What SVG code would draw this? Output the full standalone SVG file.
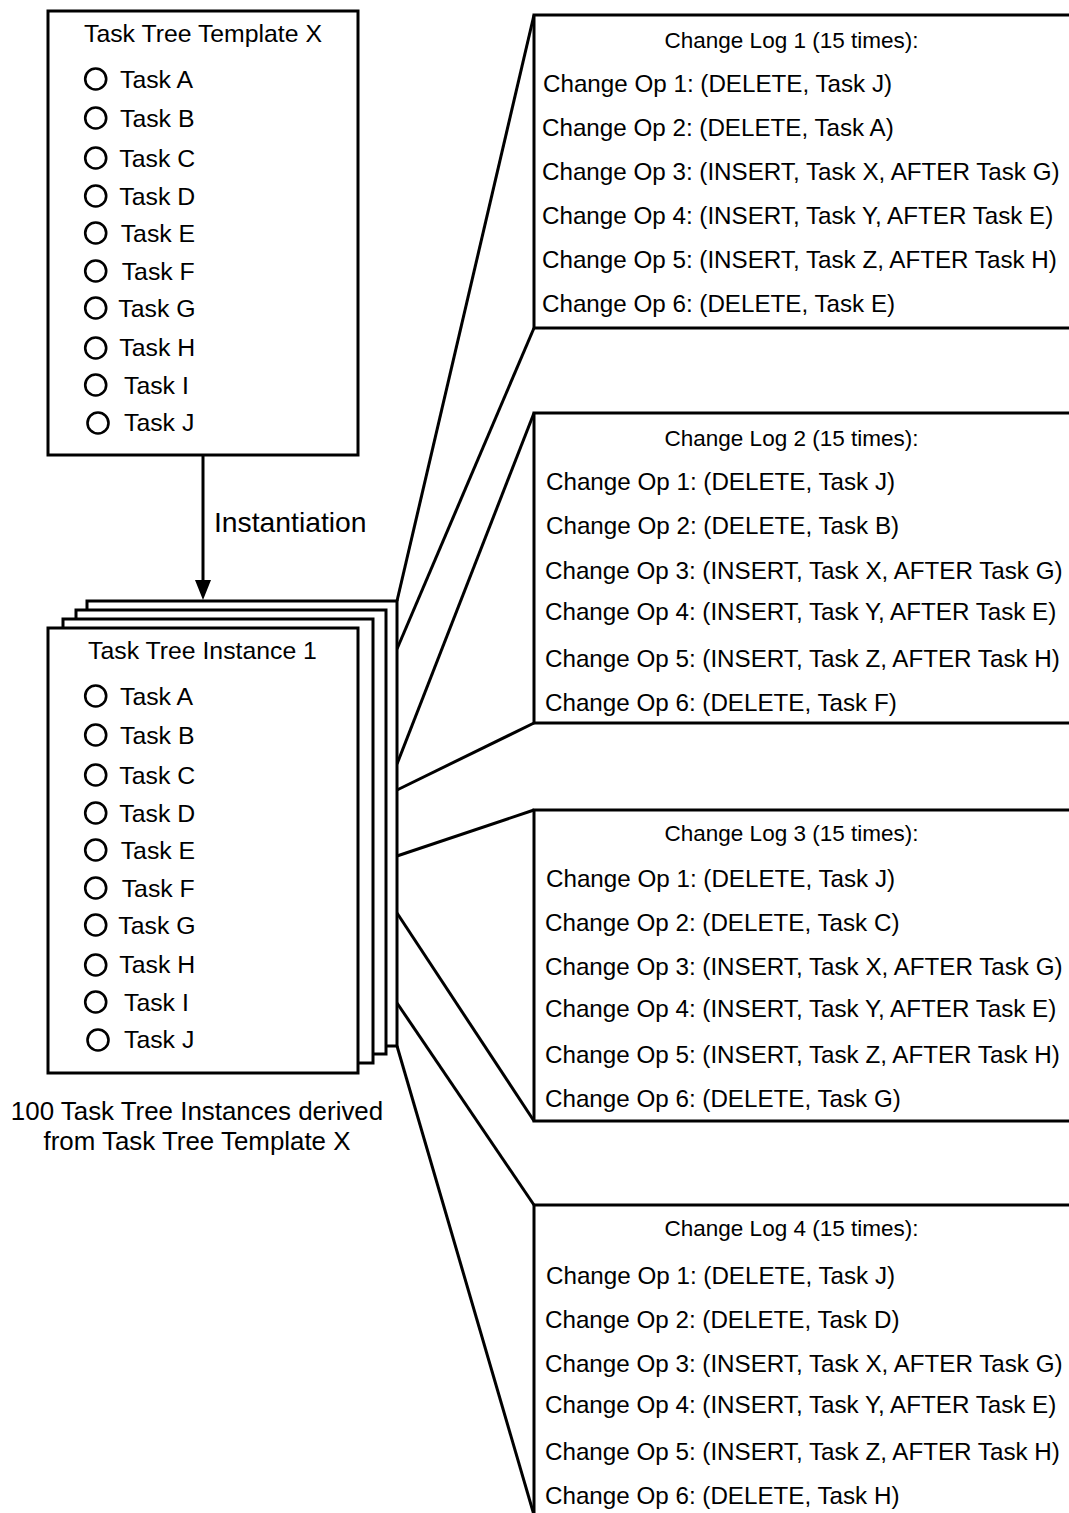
<svg xmlns="http://www.w3.org/2000/svg" width="1069" height="1513" viewBox="0 0 1069 1513">
<defs>
<style>
.box{fill:#fff;stroke:#000;stroke-width:3}
.t{font-family:"Liberation Sans",Arial,Helvetica,sans-serif;font-size:24.8px;fill:#000}
.tt{font-family:"Liberation Sans",Arial,Helvetica,sans-serif;font-size:22.5px;fill:#000;text-anchor:middle}
.op{font-family:"Liberation Sans",Arial,Helvetica,sans-serif;font-size:24.2px;fill:#000}
.c{fill:none;stroke:#000;stroke-width:2.6}
.ln{fill:none;stroke:#000;stroke-width:3}
</style>
<marker id="arr" markerWidth="16" markerHeight="20" refX="8" refY="2" orient="0" markerUnits="userSpaceOnUse" viewBox="0 0 16 20">
<path d="M0,0 L16,0 L8,20 Z" fill="#000"/>
</marker>
<g id="tasks">
<circle class="c" cx="95.7" cy="79" r="10.5"/><text class="t" x="120" y="87.5">Task A</text>
<circle class="c" cx="95.7" cy="118" r="10.5"/><text class="t" x="120" y="127">Task B</text>
<circle class="c" cx="95.7" cy="158" r="10.5"/><text class="t" x="119.3" y="166.5">Task C</text>
<circle class="c" cx="95.7" cy="196" r="10.5"/><text class="t" x="119.3" y="204.5">Task D</text>
<circle class="c" cx="95.7" cy="233" r="10.5"/><text class="t" x="120.7" y="242">Task E</text>
<circle class="c" cx="95.7" cy="271" r="10.5"/><text class="t" x="121.7" y="279.5">Task F</text>
<circle class="c" cx="95.7" cy="308" r="10.5"/><text class="t" x="118.3" y="317">Task G</text>
<circle class="c" cx="95.7" cy="348" r="10.5"/><text class="t" x="119.3" y="356">Task H</text>
<circle class="c" cx="95.7" cy="385" r="10.5"/><text class="t" x="124" y="393.5">Task I</text>
<circle class="c" cx="98" cy="423" r="10.5"/><text class="t" x="124" y="431">Task J</text>
</g>
</defs>

<g id="connectors">
<line class="ln" x1="203" y1="455" x2="203" y2="582" marker-end="url(#arr)"/>
<line class="ln" x1="397" y1="601" x2="534" y2="15"/>
<line class="ln" x1="397" y1="649" x2="534" y2="328"/>
<line class="ln" x1="397" y1="764" x2="534" y2="413"/>
<line class="ln" x1="397" y1="790" x2="534" y2="723"/>
<line class="ln" x1="397" y1="856" x2="534" y2="810"/>
<line class="ln" x1="397" y1="913" x2="534" y2="1121"/>
<line class="ln" x1="397" y1="1003" x2="534" y2="1205"/>
<line class="ln" x1="397" y1="1046" x2="534" y2="1515"/>
</g>
<text class="t" x="214" y="531.5" style="font-size:28.3px">Instantiation</text>

<g id="template">
<rect class="box" x="48" y="11" width="310" height="444"/>
<text class="t" x="203" y="41.7" text-anchor="middle">Task Tree Template X</text>
<use href="#tasks"/>
</g>

<g id="instances">
<rect class="box" x="87" y="601" width="310" height="445"/>
<rect class="box" x="76" y="610" width="310" height="444"/>
<rect class="box" x="63" y="619" width="310" height="444"/>
<rect class="box" x="48" y="628" width="310" height="445"/>
<text class="t" x="202.5" y="659" text-anchor="middle">Task Tree Instance 1</text>
<use href="#tasks" y="617"/>
<text class="t" x="197" y="1119.5" text-anchor="middle" style="font-size:25.9px">100 Task Tree Instances derived</text>
<text class="t" x="197" y="1150" text-anchor="middle" style="font-size:25.9px">from Task Tree Template X</text>
</g>

<g id="log1">
<rect class="box" x="534" y="15" width="600" height="313"/>
<text class="tt" x="791.5" y="48">Change Log 1 (15 times):</text>
<text class="op" x="543" y="92">Change Op 1: (DELETE, Task J)</text>
<text class="op" x="542" y="136">Change Op 2: (DELETE, Task A)</text>
<text class="op" x="542" y="180">Change Op 3: (INSERT, Task X, AFTER Task G)</text>
<text class="op" x="542" y="224">Change Op 4: (INSERT, Task Y, AFTER Task E)</text>
<text class="op" x="542" y="268">Change Op 5: (INSERT, Task Z, AFTER Task H)</text>
<text class="op" x="542" y="312">Change Op 6: (DELETE, Task E)</text>
</g>

<g id="log2">
<rect class="box" x="534" y="413" width="600" height="310"/>
<text class="tt" x="791.5" y="445.5">Change Log 2 (15 times):</text>
<text class="op" x="546" y="490">Change Op 1: (DELETE, Task J)</text>
<text class="op" x="546" y="534">Change Op 2: (DELETE, Task B)</text>
<text class="op" x="545" y="579">Change Op 3: (INSERT, Task X, AFTER Task G)</text>
<text class="op" x="545" y="620">Change Op 4: (INSERT, Task Y, AFTER Task E)</text>
<text class="op" x="545" y="667">Change Op 5: (INSERT, Task Z, AFTER Task H)</text>
<text class="op" x="545" y="711">Change Op 6: (DELETE, Task F)</text>
</g>

<g id="log3">
<rect class="box" x="534" y="810" width="600" height="311"/>
<text class="tt" x="791.5" y="840.5">Change Log 3 (15 times):</text>
<text class="op" x="546" y="887">Change Op 1: (DELETE, Task J)</text>
<text class="op" x="545" y="931">Change Op 2: (DELETE, Task C)</text>
<text class="op" x="545" y="975">Change Op 3: (INSERT, Task X, AFTER Task G)</text>
<text class="op" x="545" y="1017">Change Op 4: (INSERT, Task Y, AFTER Task E)</text>
<text class="op" x="545" y="1063">Change Op 5: (INSERT, Task Z, AFTER Task H)</text>
<text class="op" x="545" y="1107">Change Op 6: (DELETE, Task G)</text>
</g>

<g id="log4">
<rect class="box" x="534" y="1205" width="600" height="400"/>
<text class="tt" x="791.5" y="1235.5">Change Log 4 (15 times):</text>
<text class="op" x="546" y="1284">Change Op 1: (DELETE, Task J)</text>
<text class="op" x="545" y="1328">Change Op 2: (DELETE, Task D)</text>
<text class="op" x="545" y="1372">Change Op 3: (INSERT, Task X, AFTER Task G)</text>
<text class="op" x="545" y="1413">Change Op 4: (INSERT, Task Y, AFTER Task E)</text>
<text class="op" x="545" y="1460">Change Op 5: (INSERT, Task Z, AFTER Task H)</text>
<text class="op" x="545" y="1504">Change Op 6: (DELETE, Task H)</text>
</g>
</svg>
